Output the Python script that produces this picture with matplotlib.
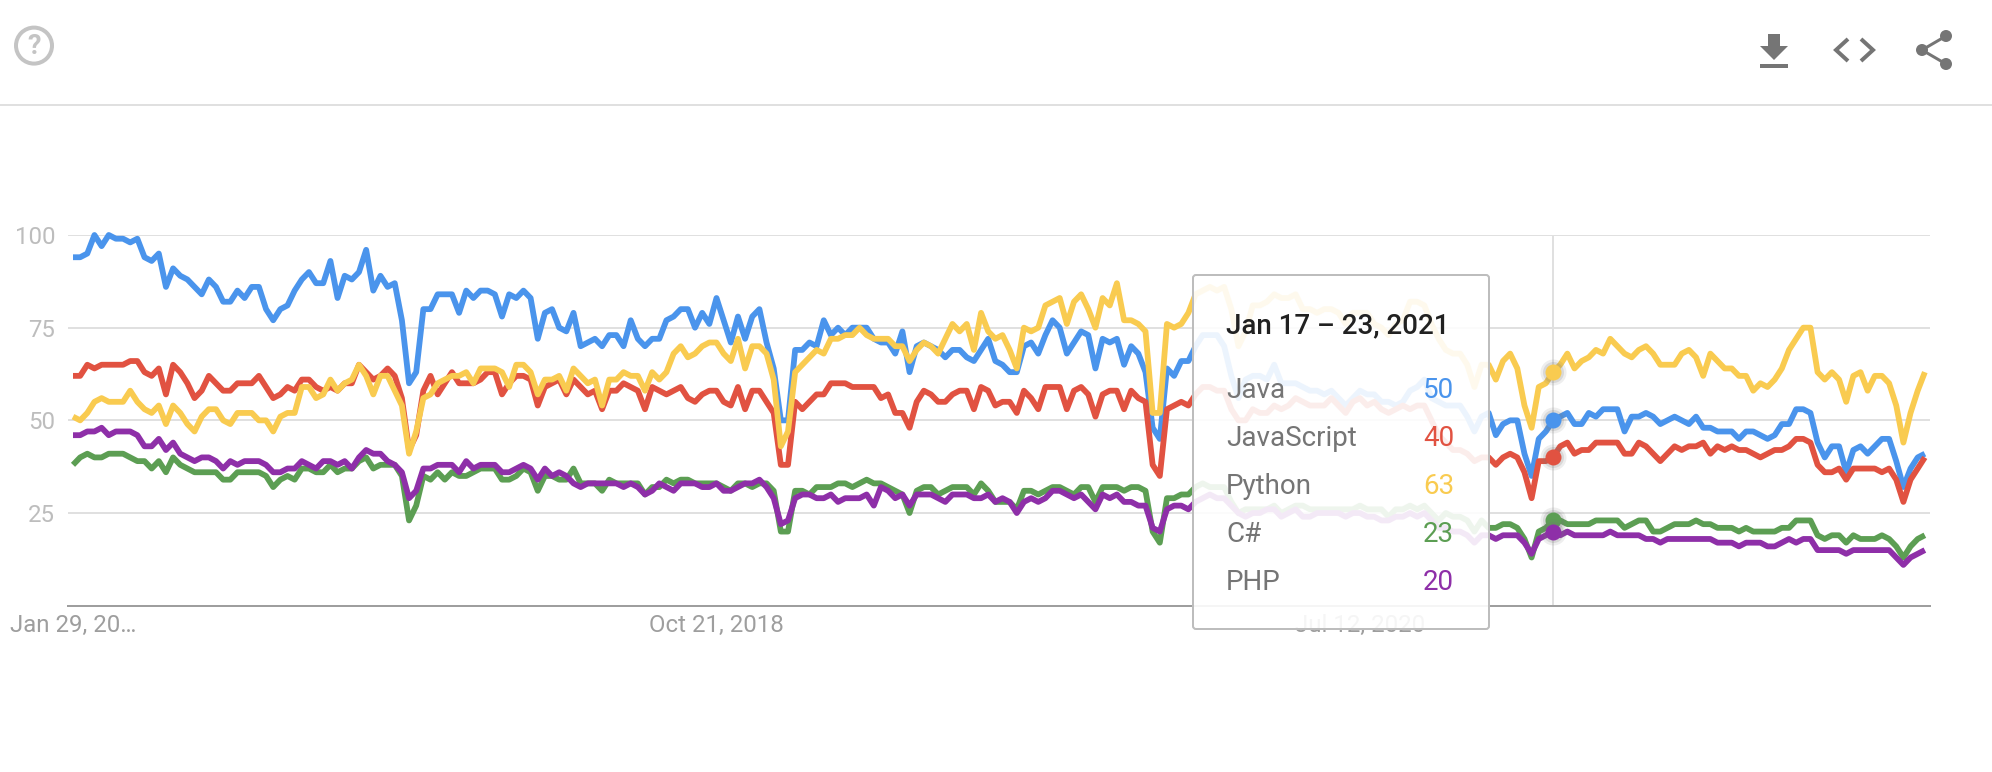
import matplotlib
matplotlib.use('Agg')
import matplotlib.pyplot as plt
from matplotlib.patches import FancyBboxPatch, Polygon, Circle, Rectangle

W, H = 1992, 772

java = [94,94,95,100,97,100,99,99,98,99,
        94,93,95,86,91,89,88,86,84,88,
        86,82,82,85,83,86,86,80,77,80,
        81,85,88,90,87,87,93,83,89,88,
        90,96,85,89,86,87,77,60,63,80,
        80,84,84,84,79,85,83,85,85,84,
        78,84,83,85,83,72,79,80,75,74,
        79,70,71,72,70,73,73,70,77,72,
        70,72,72,77,78,80,80,75,79,76,
        83,77,71,78,72,78,80,71,64,50,
        50,69,69,71,70,77,73,75,73,75,
        75,75,72,71,71,68,74,63,70,71,
        70,69,67,69,69,67,66,69,72,66,
        65,63,63,70,71,68,73,77,75,68,
        71,74,73,64,72,71,72,65,70,68,
        63,48,45,64,62,66,66,70,73,73,
        73,70,62,56,61,62,62,61,65,60,
        60,60,59,58,58,57,58,56,54,56,
        58,57,57,55,55,54,55,58,59,61,
        56,55,54,54,54,51,47,51,52,46,
        49,50,50,41,35,45,47,50,51,52,
        49,49,52,51,53,53,53,47,51,51,
        52,51,49,50,51,50,49,51,48,48,
        47,47,47,45,47,47,46,45,46,49,
        49,53,53,52,44,40,43,43,36,42,
        43,41,43,45,45,39,32,37,40,41]
javascript = [62,62,65,64,65,65,65,65,66,66,
        63,62,64,57,65,63,60,56,58,62,
        60,58,58,60,60,60,62,59,56,57,
        59,58,61,61,59,58,59,58,60,60,
        65,63,61,62,64,62,56,42,46,58,
        62,57,60,63,60,60,60,61,63,63,
        57,60,62,62,61,54,59,60,61,57,
        61,59,57,58,53,58,58,60,59,58,
        53,59,58,57,58,59,56,55,57,58,
        58,55,54,59,53,58,58,55,52,38,
        38,55,53,55,57,57,60,60,60,59,
        59,59,59,56,57,52,52,48,55,58,
        57,55,55,57,58,58,53,59,58,54,
        55,55,52,58,56,53,59,59,59,53,
        58,59,57,51,57,58,58,53,58,56,
        55,38,35,53,54,55,54,57,59,59,
        58,58,53,50,50,53,52,52,54,53,
        54,56,55,54,54,54,56,54,52,55,
        56,54,55,53,52,53,54,53,54,54,
        50,46,44,42,42,41,39,40,40,38,
        40,41,40,36,29,39,39,40,43,44,
        41,42,42,44,44,44,44,41,41,44,
        43,41,39,41,43,42,43,43,44,41,
        43,42,43,42,42,41,40,41,42,42,
        43,45,45,44,38,36,36,37,34,37,
        37,37,37,36,37,34,28,34,37,40]
python = [51,50,52,55,56,55,55,55,58,55,
        53,52,54,49,54,52,49,47,51,53,
        53,50,49,52,52,52,50,50,47,51,
        52,52,59,59,56,57,61,58,60,61,
        65,62,57,62,62,58,54,41,47,56,
        57,60,61,62,62,63,60,64,64,64,
        63,59,65,65,63,57,61,61,62,58,
        64,62,60,61,54,61,61,63,62,62,
        58,63,61,63,68,70,67,68,70,71,
        71,68,66,72,64,70,70,68,61,43,
        47,63,65,67,69,68,72,72,73,73,
        75,73,72,72,72,70,70,66,69,71,
        70,68,72,76,74,76,69,79,74,72,
        73,69,64,75,74,75,81,82,83,76,
        82,84,80,75,83,81,87,77,77,76,
        74,52,52,76,75,76,79,84,85,86,
        85,86,80,70,74,81,81,82,84,83,
        83,84,80,80,79,80,80,79,76,79,
        79,79,76,75,73,76,77,82,82,81,
        76,72,69,68,68,65,59,65,65,61,
        66,68,64,54,48,59,60,63,65,68,
        64,66,67,69,68,72,70,68,67,69,
        70,68,65,65,65,68,69,67,62,68,
        66,64,64,62,62,58,60,59,61,64,
        69,72,75,75,63,61,63,61,55,62,
        63,58,62,62,60,54,44,52,58,63]
csharp = [38,40,41,40,40,41,41,41,40,39,
        39,37,39,36,40,38,37,36,36,36,
        36,34,34,36,36,36,36,35,32,34,
        35,34,37,37,36,36,38,36,37,37,
        39,40,37,38,38,38,35,23,27,35,
        34,36,34,36,35,35,36,37,37,37,
        34,34,35,37,36,31,35,35,34,34,
        37,33,33,33,31,34,33,33,33,33,
        30,32,32,34,33,34,34,33,33,33,
        33,32,31,33,33,32,33,33,31,20,
        20,31,31,30,32,32,32,33,33,32,
        33,34,33,33,32,31,30,25,31,32,
        32,30,31,32,32,32,30,33,31,28,
        28,28,26,31,31,30,31,32,32,31,
        30,32,32,28,32,32,32,31,32,32,
        31,20,17,29,29,30,30,32,33,32,
        32,32,28,25,26,26,26,26,27,25,
        26,27,27,26,26,26,26,26,26,26,
        27,26,26,26,24,26,26,27,26,27,
        25,23,25,24,24,23,20,23,21,21,
        22,22,21,18,13,20,21,23,23,22,
        22,22,22,23,23,23,23,21,22,23,
        23,20,20,21,22,22,22,23,22,22,
        21,21,21,20,21,20,20,20,20,21,
        21,23,23,23,19,18,19,19,17,19,
        18,18,18,19,18,16,13,16,18,19]
php = [46,46,47,47,48,46,47,47,47,46,
        43,43,45,42,44,41,40,39,40,40,
        39,37,39,38,39,39,39,38,36,36,
        37,37,39,38,37,39,39,38,39,37,
        40,42,41,41,39,38,36,29,31,37,
        37,38,38,38,36,39,37,38,38,38,
        36,36,37,38,37,34,37,35,36,35,
        33,32,33,33,33,33,33,32,33,32,
        30,31,33,32,31,33,33,33,32,32,
        33,31,31,32,33,33,34,32,29,22,
        23,29,30,30,29,29,30,28,29,29,
        29,30,27,32,31,29,30,27,30,30,
        30,29,28,30,30,30,29,29,30,28,
        29,28,25,28,29,28,29,31,31,30,
        29,30,28,26,30,29,30,28,28,27,
        27,21,20,26,27,27,26,28,29,30,
        29,29,27,25,24,25,25,26,26,24,
        25,26,24,24,25,25,25,25,24,25,
        25,24,24,23,23,24,24,25,24,25,
        23,21,21,20,20,19,17,19,19,18,
        19,19,19,17,14,18,19,20,19,20,
        19,19,19,19,19,20,19,19,19,19,
        18,18,17,18,18,18,18,18,18,18,
        17,17,17,16,17,17,17,16,16,17,
        18,17,18,18,15,15,15,15,14,15,
        15,15,15,15,15,13,11,13,14,15]

names = ['Java', 'JavaScript', 'Python', 'C#', 'PHP']
series = [java, javascript, python, csharp, php]
colors = ['#4a94ec', '#e15241', '#f9cb50', '#5c9e53', '#8e2fa8']
y_ticks = [25, 50, 75, 100]
x_tick_pos = [0, 90, 180]
x_tick_labels = ['Jan 29, 20…', 'Oct 21, 2018', 'Jul 12, 2020']
hover = 207
hover_title = 'Jan 17 – 23, 2021'

plt.rcParams['font.family'] = ['Roboto', 'DejaVu Sans']
px = 72 / 100  # one pixel in points at dpi 100

fig = plt.figure(figsize=(W / 100, H / 100), dpi=100, facecolor='white')

# chart area, 68..1930 wide, y=0 at 605.7 and y=100 at 235
ax = fig.add_axes([68 / W, 1 - 605.7 / H, (1930 - 68) / W, (605.7 - 235) / H])
step = 7.15
ax.set_xlim(-5 / step, (1930 - 73) / step)
ax.set_ylim(0, 100)
ax.set_yticks(y_ticks)
ax.set_xticks(x_tick_pos)
ax.set_xticklabels(x_tick_labels)
ax.grid(axis='y', color='#e0e0e0', lw=2 * px)
ax.set_axisbelow(True)
for s in ['top', 'left', 'right']:
    ax.spines[s].set_visible(False)
ax.spines['bottom'].set_color('#9e9e9e')
ax.spines['bottom'].set_linewidth(2 * px)
ax.tick_params(axis='y', length=0, pad=13 * px, labelsize=24 * px, labelcolor='#bdbdbd')
ax.tick_params(axis='x', length=0, pad=8 * px, labelsize=24 * px, labelcolor='#9e9e9e')

ax.axvline(hover, color='#e0e0e0', lw=2 * px, zorder=1.5)

x = list(range(len(java)))
for vals, c in zip(series, colors):
    ax.plot(x, vals, color=c, lw=5.8 * px, solid_joinstyle='round', solid_capstyle='butt', clip_on=False, zorder=2)
for vals, c in zip(series, colors):
    ax.plot([hover], [vals[hover]], 'o', ms=26 * px, color='#757575', alpha=0.12, mew=0, zorder=3)
    ax.plot([hover], [vals[hover]], 'o', ms=21 * px, color='#757575', alpha=0.18, mew=0, zorder=3)
    ax.plot([hover], [vals[hover]], 'o', ms=16 * px, color=c, mew=0, zorder=3)

# overlay in pixel coordinates for the header and the tooltip
ov = fig.add_axes([0, 0, 1, 1], zorder=5)
ov.set_xlim(0, W)
ov.set_ylim(H, 0)
ov.axis('off')
ov.patch.set_alpha(0)

ov.plot([0, W], [105, 105], color='#e0e0e0', lw=2 * px)

# help icon
ov.add_patch(Circle((34, 45.6), 18, fill=False, ec='#c4c4c4', lw=4 * px))
ov.text(34, 46, '?', color='#c4c4c4', fontsize=27 * px, weight='bold', ha='center', va='center')

# download icon
icon = '#757575'
ov.add_patch(Polygon([(1768, 34), (1780, 34), (1780, 46), (1788, 46), (1774, 60), (1760, 46), (1768, 46)],
                     fc=icon, ec='none'))
ov.add_patch(Rectangle((1760, 64), 28, 4, fc=icon, ec='none'))
# embed icon
ov.plot([1848, 1836, 1848], [39, 50, 61], color=icon, lw=4 * px, solid_capstyle='butt', solid_joinstyle='miter')
ov.plot([1861, 1873, 1861], [39, 50, 61], color=icon, lw=4 * px, solid_capstyle='butt', solid_joinstyle='miter')
# share icon
ov.plot([1946, 1922, 1946], [36, 50, 64], color=icon, lw=3 * px)
for cx, cy in [(1922, 50), (1946, 36), (1946, 64)]:
    ov.add_patch(Circle((cx, cy), 6, fc=icon, ec='none'))

# tooltip
ov.add_patch(FancyBboxPatch((1193, 275), 296, 354, boxstyle='round,pad=0,rounding_size=3',
                            fc=(1, 1, 1, 0.9), ec='#bdbdbd', lw=2 * px))
ov.text(1226, 326, hover_title, color='#212121', fontsize=27.8 * px, weight='medium', ha='left', va='center')
row_y = [390, 439, 487, 534, 582]
for ry, name, vals, c in zip(row_y, names, series, colors):
    ov.text(1226, ry, name, color='#757575', fontsize=27.8 * px, ha='left', va='center')
    ov.text(1454, ry, str(vals[hover]), color=c, fontsize=27.8 * px, ha='right', va='center')

fig.savefig('out.png', dpi=100, facecolor='white')
